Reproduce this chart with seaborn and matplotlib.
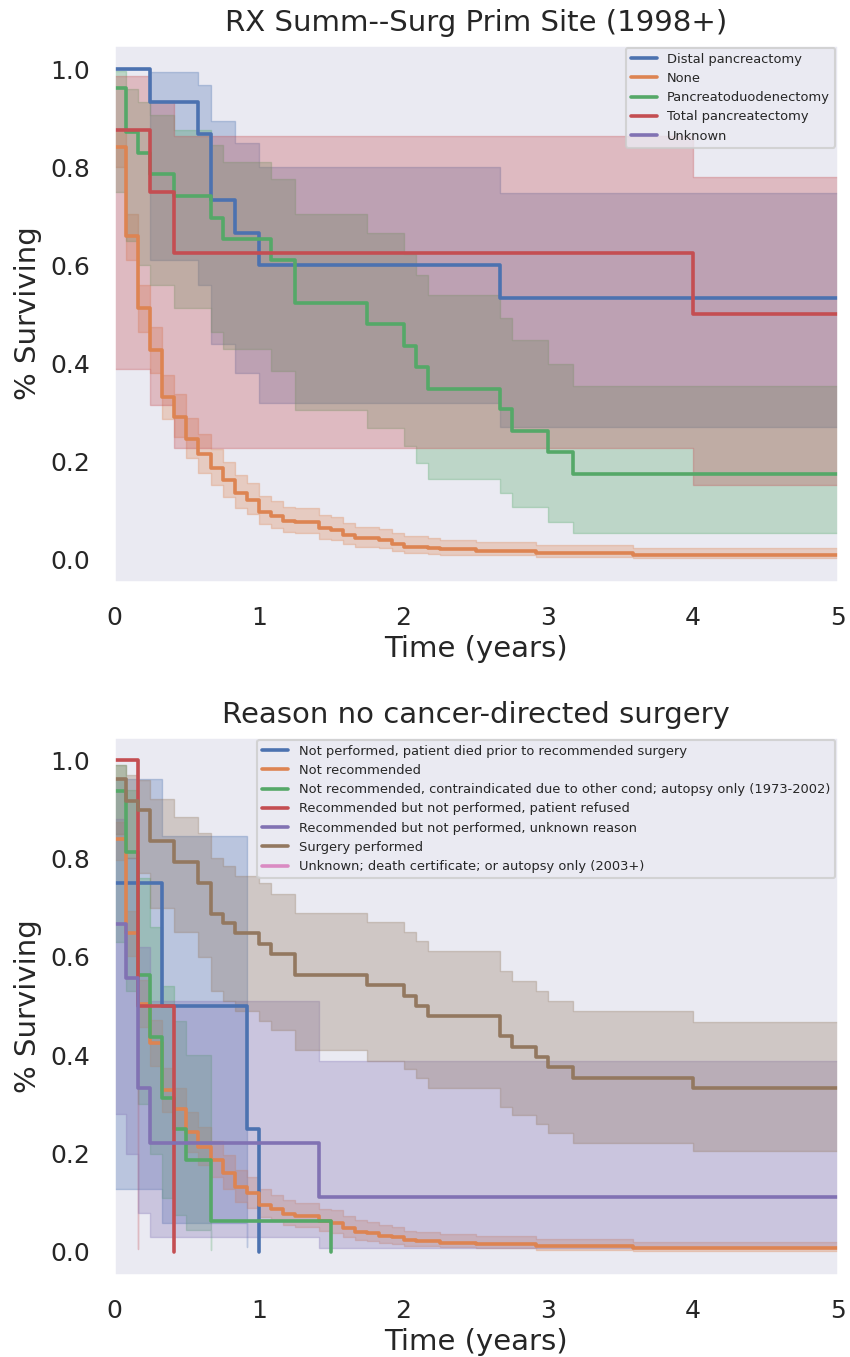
import numpy as np
import pandas as pd
import matplotlib
matplotlib.use("Agg")
import matplotlib.pyplot as plt
from matplotlib.lines import Line2D
import seaborn as sns

# ---------------- data (time in months, survival, CI) ----------------
top_title = "RX Summ--Surg Prim Site (1998+)"
top_groups = ["Distal pancreactomy", "None", "Pancreatoduodenectomy",
              "Total pancreatectomy", "Unknown"]

distal_m = [0, 3, 7, 8, 10, 12, 32, 72]
distal_s = [1.0, .933, .867, .733, .667, .600, .533, .533]
distal_lo = [1.0, .61, .56, .44, .38, .32, .27, .27]
distal_hi = [1.0, .994, .967, .894, .85, .80, .747, .747]

none_m = [0, 1, 2, 3, 4, 5, 6, 7, 8, 9, 10, 11, 12, 13, 14, 15, 17, 18, 19, 20,
          22, 23, 24, 26, 27, 30, 35, 43, 72]
none_s = [.842, .660, .513, .427, .331, .292, .246, .215, .187, .162, .136, .122,
          .098, .090, .079, .077, .064, .060, .051, .044, .040, .032, .027, .024,
          .022, .019, .0136, .010, .010]
none_lo = [.800, .612, .465, .380, .287, .250, .207, .178, .152, .129, .106, .093,
           .073, .066, .056, .054, .043, .040, .033, .027, .024, .018, .015, .013,
           .011, .009, .006, .004, .004]
none_hi = [.877, .704, .560, .475, .377, .337, .290, .257, .226, .200, .172, .156,
           .131, .121, .108, .106, .091, .087, .076, .068, .063, .054, .048, .044,
           .041, .037, .030, .024, .024]

panc_m = [0, 1, 2, 3, 5, 8, 9, 13, 15, 21, 24, 25, 26, 32, 33, 36, 38, 72]
panc_s = [.961, .871, .828, .786, .742, .697, .654, .611, .524, .480, .436, .392,
          .349, .307, .263, .219, .175, .175]
panc_lo = [.75, .65, .60, .56, .513, .465, .43, .385, .305, .268, .233, .198,
           .165, .136, .107, .078, .054, .054]
panc_hi = [.996, .96, .933, .906, .876, .845, .811, .777, .704, .665, .623, .58,
           .54, .492, .448, .40, .355, .355]

total_m = [0, 3, 5, 48, 72]
total_s = [.875, .75, .625, .5, .5]
total_lo = [.388, .316, .229, .152, .152]
total_hi = [.986, .935, .863, .781, .781]

unknown_m, unknown_s, unknown_lo, unknown_hi = [], [], [], []

bot_title = "Reason no cancer-directed surgery"
bot_groups = ["Not performed, patient died prior to recommended surgery",
              "Not recommended",
              "Not recommended, contraindicated due to other cond; autopsy only (1973-2002)",
              "Recommended but not performed, patient refused",
              "Recommended but not performed, unknown reason",
              "Surgery performed",
              "Unknown; death certificate; or autopsy only (2003+)"]

died_m = [0, 4, 11, 12]
died_s = [.75, .5, .25, 0.0]
died_lo = [.128, .058, .009, np.nan]
died_hi = [.961, .846, .668, np.nan]

notrec_m = [0, 1, 2, 3, 4, 5, 6, 7, 8, 9, 10, 11, 12, 13, 14, 15, 17, 18, 19, 20,
            21, 22, 23, 24, 25, 27, 30, 35, 43, 72]
notrec_s = [.839, .649, .505, .424, .329, .291, .243, .214, .187, .160, .131, .119,
            .096, .087, .077, .072, .062, .059, .048, .041, .038, .033, .030, .024,
            .023, .019, .016, .012, .0075, .0075]
notrec_lo = [.797, .601, .457, .377, .285, .249, .204, .177, .152, .127, .101, .090,
             .071, .063, .055, .050, .042, .039, .030, .025, .022, .019, .017, .012,
             .011, .009, .007, .004, .002, .002]
notrec_hi = [.875, .693, .552, .472, .374, .334, .285, .254, .226, .197, .166, .152,
             .127, .116, .105, .099, .088, .085, .072, .064, .060, .054, .050, .042,
             .041, .036, .032, .027, .020, .020]

contra_m = [0, 1, 2, 3, 4, 5, 6, 8, 18]
contra_s = [.9375, .8125, .5625, .4375, .3125, .25, .1875, .0625, 0.0]
contra_lo = [.63, .53, .30, .20, .11, .075, .045, .004, np.nan]
contra_hi = [.99, .94, .76, .66, .54, .47, .40, .25, np.nan]

refused_m = [0, 2, 5]
refused_s = [1.0, .5, 0.0]
refused_lo = [1.0, .006, np.nan]
refused_hi = [1.0, .91, np.nan]

unkreason_m = [0, 1, 2, 3, 17, 72]
unkreason_s = [.667, .556, .333, .222, .111, .111]
unkreason_lo = [.28, .20, .08, .03, .0075, .0075]
unkreason_hi = [.88, .80, .62, .51, .388, .388]

surg_m = [0, 1, 2, 3, 5, 7, 8, 9, 10, 12, 13, 15, 21, 24, 25, 26, 32, 33, 35, 36,
          38, 48, 72]
surg_s = [.961, .917, .898, .836, .793, .751, .688, .669, .648, .626, .606, .563,
          .543, .521, .501, .480, .438, .417, .397, .375, .354, .334, .334]
surg_lo = [.85, .80, .77, .70, .65, .60, .53, .51, .49, .47, .451, .411, .389,
           .371, .353, .334, .295, .278, .260, .241, .222, .206, .206]
surg_hi = [.99, .97, .96, .92, .884, .851, .80, .785, .765, .75, .728, .690, .671,
           .651, .632, .612, .572, .551, .531, .511, .489, .468, .468]

dcert_m, dcert_s, dcert_lo, dcert_hi = [], [], [], []

top_series = [(distal_m, distal_s, distal_lo, distal_hi),
              (none_m, none_s, none_lo, none_hi),
              (panc_m, panc_s, panc_lo, panc_hi),
              (total_m, total_s, total_lo, total_hi),
              (unknown_m, unknown_s, unknown_lo, unknown_hi)]
bot_series = [(died_m, died_s, died_lo, died_hi),
              (notrec_m, notrec_s, notrec_lo, notrec_hi),
              (contra_m, contra_s, contra_lo, contra_hi),
              (refused_m, refused_s, refused_lo, refused_hi),
              (unkreason_m, unkreason_s, unkreason_lo, unkreason_hi),
              (surg_m, surg_s, surg_lo, surg_hi),
              (dcert_m, dcert_s, dcert_lo, dcert_hi)]

# ---------------- style ----------------
sns.set_theme(context="talk", style="dark")
plt.rcParams["font.family"] = ["DejaVu Sans"]
pal = sns.color_palette("deep", 10)

fig = plt.figure(figsize=(8.5, 13.57), dpi=100)
W, H = 850.0, 1357.0
ax1 = fig.add_axes([114 / W, 1 - 582 / H, 724 / W, 537 / H])
ax2 = fig.add_axes([114 / W, 1 - 1275 / H, 724 / W, 538 / H])

LW = 2.6


def draw(ax, groups, series, title, ylim):
    rows = []
    colors = {g: pal[i] for i, g in enumerate(groups)}
    for g, (m, s, lo, hi) in zip(groups, series):
        t = np.asarray(m, dtype=float) / 12.0
        for ti, si in zip(t, s):
            rows.append((g, ti, si))
        if len(t):
            ax.fill_between(t, np.asarray(lo, float), np.asarray(hi, float),
                            step="post", alpha=0.3, color=colors[g], linewidth=1.0)
    df = pd.DataFrame(rows, columns=["group", "t", "S"])
    present = [g for g in groups if g in set(df["group"])]
    sns.lineplot(data=df, x="t", y="S", hue="group", hue_order=present,
                 palette=colors, estimator=None, sort=False, ax=ax,
                 drawstyle="steps-post", linewidth=LW, legend=False)
    handles = [Line2D([0], [0], color=colors[g], lw=LW) for g in groups]
    ax.legend(handles, groups, loc="upper right", fontsize=9.35,
              borderaxespad=0.2, labelspacing=0.48)
    ax.set_xlim(0, 5)
    ax.set_ylim(*ylim)
    ax.set_xticks([0, 1, 2, 3, 4, 5])
    ax.set_yticks([0.0, 0.2, 0.4, 0.6, 0.8, 1.0])
    ax.set_yticklabels(["0.0", "0.2", "0.4", "0.6", "0.8", "1.0"])
    ax.tick_params(axis="both", labelsize=18, pad=8)
    ax.set_xlabel("Time (years)", fontsize=21, labelpad=4)
    ax.set_ylabel("% Surviving", fontsize=21, labelpad=6)
    ax.set_title(title, fontsize=21, pad=10)


draw(ax1, top_groups, top_series, top_title, (-0.045, 1.049))
draw(ax2, bot_groups, bot_series, bot_title, (-0.047, 1.047))

fig.savefig("out.png", dpi=100)
